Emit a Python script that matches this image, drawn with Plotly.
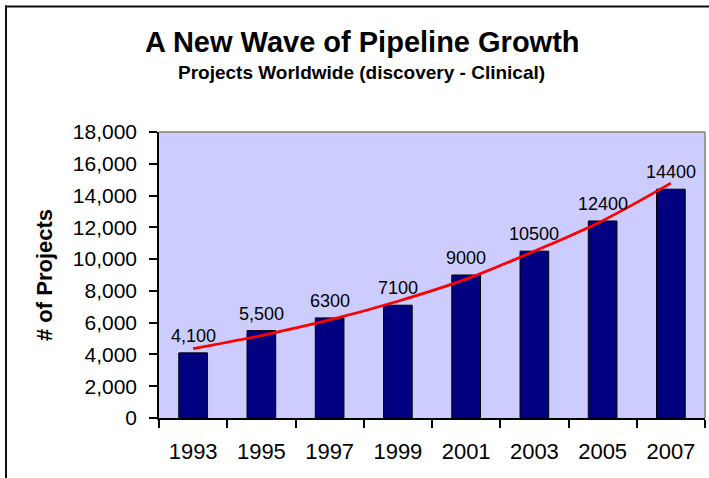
import plotly.graph_objects as go

# Data
years = ["1993", "1995", "1997", "1999", "2001", "2003", "2005", "2007"]
projects = [4100, 5500, 6300, 7100, 9000, 10500, 12400, 14400]
bar_labels = ["4,100", "5,500", "6300", "7100", "9000", "10500", "12400", "14400"]
trend = [4360, 5190, 6170, 7350, 8740, 10500, 12420, 14780]
y_ticks = [0, 2000, 4000, 6000, 8000, 10000, 12000, 14000, 16000, 18000]

FONT = "Arial, 'Liberation Sans', sans-serif"

W, H = 709, 478
L, R, T, B = 159, 4, 132, 60
pw = W - L - R
ph = H - T - B


def px_x(x):
    return (x - L) / pw


def px_y(y):
    return (H - B - y) / ph


fig = go.Figure()
fig.add_trace(go.Bar(
    x=years, y=projects,
    marker=dict(color="#000080", line=dict(color="#000000", width=1)),
    width=0.42,
    hoverinfo="skip",
))
fig.add_trace(go.Scatter(
    x=years, y=trend, mode="lines",
    line=dict(color="#FF0000", width=2.8, shape="spline"),
    hoverinfo="skip",
))

annotations = []
for i, (v, lab) in enumerate(zip(projects, bar_labels)):
    annotations.append(dict(
        x=i, y=v, xref="x", yref="y", text=lab, showarrow=False,
        yanchor="bottom", xanchor="center", yshift=5,
        font=dict(family=FONT, size=18, color="#000000"),
    ))

annotations += [
    dict(x=px_x(362), y=px_y(42), xref="paper", yref="paper",
         text="<b>A New Wave of Pipeline Growth</b>", showarrow=False,
         xanchor="center", yanchor="middle",
         font=dict(family=FONT, size=29, color="#000000")),
    dict(x=px_x(361), y=px_y(72), xref="paper", yref="paper",
         text="<b>Projects Worldwide (discovery - Clinical)</b>", showarrow=False,
         xanchor="center", yanchor="middle",
         font=dict(family=FONT, size=19, color="#000000")),
    dict(x=px_x(44), y=0.5, xref="paper", yref="paper",
         text="<b># of Projects</b>", showarrow=False, textangle=-90,
         xanchor="center", yanchor="middle",
         font=dict(family=FONT, size=22, color="#000000")),
]

shapes = [
    dict(type="line", xref="paper", yref="paper", x0=0, x1=1, y0=1, y1=1,
         line=dict(color="#999999", width=2), layer="above"),
    dict(type="line", xref="paper", yref="paper", x0=1, x1=1, y0=0, y1=1,
         line=dict(color="#999999", width=2), layer="above"),
    dict(type="line", xref="paper", yref="paper", x0=px_x(5), x1=px_x(W + 10),
         y0=px_y(6.5), y1=px_y(6.5), line=dict(color="#111111", width=2)),
    dict(type="line", xref="paper", yref="paper", x0=px_x(6), x1=px_x(6),
         y0=px_y(5.5), y1=px_y(H + 10), line=dict(color="#111111", width=2)),
]

fig.update_layout(
    width=W, height=H,
    margin=dict(l=L, r=R, t=T, b=B, pad=0),
    paper_bgcolor="#FFFFFF",
    plot_bgcolor="#CCCCFF",
    showlegend=False,
    annotations=annotations,
    shapes=shapes,
    font=dict(family=FONT, color="#000000"),
    xaxis=dict(
        type="category", categoryorder="array", categoryarray=years,
        range=[-0.5, len(years) - 0.5], autorange=False,
        tickson="boundaries", ticks="outside", ticklen=8,
        tickcolor="#000000", tickwidth=1.5, showline=True, linecolor="#000000",
        linewidth=1.5, showgrid=False, zeroline=False, tickangle=0,
        tickfont=dict(family=FONT, size=22, color="#000000"),
        ticklabelstandoff=13,
    ),
    yaxis=dict(
        range=[0, 18000], autorange=False, tickvals=y_ticks, tickformat=",d",
        ticks="outside", ticklen=8, tickcolor="#000000", tickwidth=1.5,
        showline=True, linecolor="#000000", linewidth=1.5, showgrid=False,
        zeroline=False,
        tickfont=dict(family=FONT, size=21, color="#000000"),
        ticklabelstandoff=8,
    ),
)

fig.write_html("out.html")
